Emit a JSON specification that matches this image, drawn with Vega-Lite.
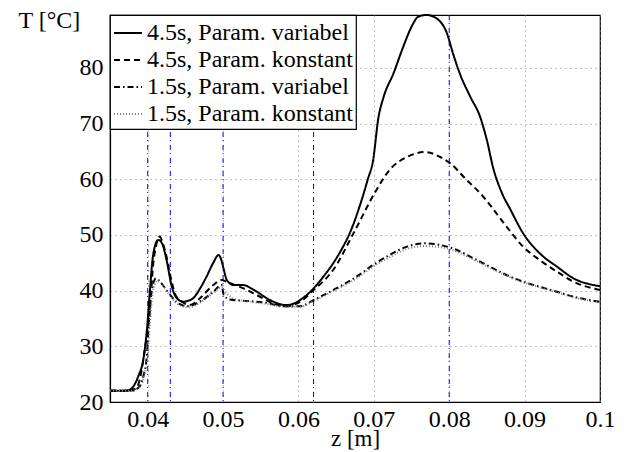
{
  "$schema": "https://vega.github.io/schema/vega-lite/v6.json",
  "width": 490,
  "height": 387,
  "autosize": {"type": "none"},
  "padding": {"left": 110, "top": 15, "right": 24, "bottom": 50},
  "background": "white",
  "config": {
    "font": "Liberation Serif",
    "view": {"stroke": "black", "strokeWidth": 1.2},
    "axis": {
      "labelFont": "Liberation Serif", "labelFontSize": 24, "labelColor": "black",
      "titleFont": "Liberation Serif", "titleFontSize": 24, "titleColor": "black", "titleFontWeight": "normal",
      "domainColor": "black", "domainWidth": 1.2,
      "ticks": false,
      "gridColor": "#888888", "gridDash": [1, 4], "gridWidth": 1, "gridOpacity": 1
    },
    "legend": {
      "labelFont": "Liberation Serif", "labelFontSize": 24, "labelColor": "black", "labelLimit": 400,
      "fillColor": "white", "strokeColor": "black", "strokeWidth": 1.2
    }
  },
  "datasets": {
    "vlines": [{"z": 0.040}, {"z": 0.043}, {"z": 0.050}, {"z": 0.062}, {"z": 0.080}],
    "curves": [
      {"s": "4.5s, Param. variabel", "z": 0.035, "T": 22.0},
      {"s": "4.5s, Param. variabel", "z": 0.0365, "T": 22.0},
      {"s": "4.5s, Param. variabel", "z": 0.0374, "T": 22.1},
      {"s": "4.5s, Param. variabel", "z": 0.0382, "T": 23.0},
      {"s": "4.5s, Param. variabel", "z": 0.0388, "T": 24.8},
      {"s": "4.5s, Param. variabel", "z": 0.0394, "T": 27.5},
      {"s": "4.5s, Param. variabel", "z": 0.0399, "T": 33.0},
      {"s": "4.5s, Param. variabel", "z": 0.0403, "T": 40.1},
      {"s": "4.5s, Param. variabel", "z": 0.04075, "T": 46.7},
      {"s": "4.5s, Param. variabel", "z": 0.0414, "T": 49.1},
      {"s": "4.5s, Param. variabel", "z": 0.0419, "T": 48.5},
      {"s": "4.5s, Param. variabel", "z": 0.0425, "T": 45.5},
      {"s": "4.5s, Param. variabel", "z": 0.0432, "T": 40.7},
      {"s": "4.5s, Param. variabel", "z": 0.0439, "T": 38.6},
      {"s": "4.5s, Param. variabel", "z": 0.0447, "T": 38.0},
      {"s": "4.5s, Param. variabel", "z": 0.0454, "T": 38.2},
      {"s": "4.5s, Param. variabel", "z": 0.0460, "T": 38.6},
      {"s": "4.5s, Param. variabel", "z": 0.0470, "T": 40.5},
      {"s": "4.5s, Param. variabel", "z": 0.0478, "T": 42.5},
      {"s": "4.5s, Param. variabel", "z": 0.0487, "T": 45.0},
      {"s": "4.5s, Param. variabel", "z": 0.0494, "T": 46.4},
      {"s": "4.5s, Param. variabel", "z": 0.0497, "T": 45.8},
      {"s": "4.5s, Param. variabel", "z": 0.0500, "T": 44.3},
      {"s": "4.5s, Param. variabel", "z": 0.0505, "T": 41.9},
      {"s": "4.5s, Param. variabel", "z": 0.0514, "T": 41.0},
      {"s": "4.5s, Param. variabel", "z": 0.0527, "T": 41.0},
      {"s": "4.5s, Param. variabel", "z": 0.0536, "T": 40.5},
      {"s": "4.5s, Param. variabel", "z": 0.0545, "T": 39.8},
      {"s": "4.5s, Param. variabel", "z": 0.0556, "T": 38.8},
      {"s": "4.5s, Param. variabel", "z": 0.0567, "T": 38.0},
      {"s": "4.5s, Param. variabel", "z": 0.0584, "T": 37.4},
      {"s": "4.5s, Param. variabel", "z": 0.0594, "T": 37.7},
      {"s": "4.5s, Param. variabel", "z": 0.0602, "T": 38.3},
      {"s": "4.5s, Param. variabel", "z": 0.0620, "T": 40.4},
      {"s": "4.5s, Param. variabel", "z": 0.0633, "T": 42.5},
      {"s": "4.5s, Param. variabel", "z": 0.0646, "T": 44.9},
      {"s": "4.5s, Param. variabel", "z": 0.0658, "T": 47.6},
      {"s": "4.5s, Param. variabel", "z": 0.0668, "T": 50.3},
      {"s": "4.5s, Param. variabel", "z": 0.0682, "T": 55.5},
      {"s": "4.5s, Param. variabel", "z": 0.0692, "T": 60.0},
      {"s": "4.5s, Param. variabel", "z": 0.0699, "T": 63.4},
      {"s": "4.5s, Param. variabel", "z": 0.0706, "T": 71.0},
      {"s": "4.5s, Param. variabel", "z": 0.0713, "T": 74.8},
      {"s": "4.5s, Param. variabel", "z": 0.0726, "T": 79.0},
      {"s": "4.5s, Param. variabel", "z": 0.0739, "T": 83.8},
      {"s": "4.5s, Param. variabel", "z": 0.0750, "T": 87.4},
      {"s": "4.5s, Param. variabel", "z": 0.0759, "T": 89.2},
      {"s": "4.5s, Param. variabel", "z": 0.0770, "T": 89.5},
      {"s": "4.5s, Param. variabel", "z": 0.0783, "T": 88.9},
      {"s": "4.5s, Param. variabel", "z": 0.0797, "T": 86.2},
      {"s": "4.5s, Param. variabel", "z": 0.0805, "T": 82.6},
      {"s": "4.5s, Param. variabel", "z": 0.0814, "T": 79.0},
      {"s": "4.5s, Param. variabel", "z": 0.0828, "T": 74.8},
      {"s": "4.5s, Param. variabel", "z": 0.0841, "T": 71.2},
      {"s": "4.5s, Param. variabel", "z": 0.0850, "T": 67.0},
      {"s": "4.5s, Param. variabel", "z": 0.0858, "T": 62.2},
      {"s": "4.5s, Param. variabel", "z": 0.0870, "T": 57.5},
      {"s": "4.5s, Param. variabel", "z": 0.0881, "T": 54.6},
      {"s": "4.5s, Param. variabel", "z": 0.0898, "T": 50.3},
      {"s": "4.5s, Param. variabel", "z": 0.0920, "T": 46.7},
      {"s": "4.5s, Param. variabel", "z": 0.0943, "T": 44.3},
      {"s": "4.5s, Param. variabel", "z": 0.0965, "T": 42.2},
      {"s": "4.5s, Param. variabel", "z": 0.1000, "T": 40.8},

      {"s": "4.5s, Param. konstant", "z": 0.035, "T": 22.0},
      {"s": "4.5s, Param. konstant", "z": 0.0375, "T": 22.0},
      {"s": "4.5s, Param. konstant", "z": 0.0385, "T": 22.5},
      {"s": "4.5s, Param. konstant", "z": 0.0391, "T": 25.0},
      {"s": "4.5s, Param. konstant", "z": 0.0396, "T": 29.3},
      {"s": "4.5s, Param. konstant", "z": 0.0403, "T": 36.5},
      {"s": "4.5s, Param. konstant", "z": 0.0407, "T": 44.3},
      {"s": "4.5s, Param. konstant", "z": 0.0411, "T": 48.0},
      {"s": "4.5s, Param. konstant", "z": 0.0416, "T": 49.7},
      {"s": "4.5s, Param. konstant", "z": 0.0420, "T": 48.5},
      {"s": "4.5s, Param. konstant", "z": 0.0425, "T": 46.1},
      {"s": "4.5s, Param. konstant", "z": 0.0432, "T": 41.5},
      {"s": "4.5s, Param. konstant", "z": 0.0437, "T": 39.2},
      {"s": "4.5s, Param. konstant", "z": 0.0443, "T": 38.3},
      {"s": "4.5s, Param. konstant", "z": 0.0456, "T": 37.4},
      {"s": "4.5s, Param. konstant", "z": 0.0469, "T": 38.6},
      {"s": "4.5s, Param. konstant", "z": 0.0487, "T": 41.0},
      {"s": "4.5s, Param. konstant", "z": 0.0498, "T": 41.9},
      {"s": "4.5s, Param. konstant", "z": 0.0505, "T": 41.6},
      {"s": "4.5s, Param. konstant", "z": 0.0516, "T": 41.0},
      {"s": "4.5s, Param. konstant", "z": 0.0527, "T": 40.4},
      {"s": "4.5s, Param. konstant", "z": 0.0545, "T": 39.2},
      {"s": "4.5s, Param. konstant", "z": 0.0567, "T": 37.7},
      {"s": "4.5s, Param. konstant", "z": 0.0584, "T": 37.2},
      {"s": "4.5s, Param. konstant", "z": 0.0602, "T": 38.0},
      {"s": "4.5s, Param. konstant", "z": 0.0620, "T": 40.1},
      {"s": "4.5s, Param. konstant", "z": 0.0646, "T": 43.7},
      {"s": "4.5s, Param. konstant", "z": 0.0673, "T": 50.3},
      {"s": "4.5s, Param. konstant", "z": 0.0701, "T": 57.5},
      {"s": "4.5s, Param. konstant", "z": 0.0721, "T": 61.7},
      {"s": "4.5s, Param. konstant", "z": 0.0744, "T": 64.0},
      {"s": "4.5s, Param. konstant", "z": 0.0768, "T": 64.9},
      {"s": "4.5s, Param. konstant", "z": 0.0788, "T": 64.0},
      {"s": "4.5s, Param. konstant", "z": 0.0801, "T": 62.9},
      {"s": "4.5s, Param. konstant", "z": 0.0823, "T": 59.9},
      {"s": "4.5s, Param. konstant", "z": 0.0845, "T": 56.9},
      {"s": "4.5s, Param. konstant", "z": 0.0854, "T": 55.4},
      {"s": "4.5s, Param. konstant", "z": 0.0876, "T": 51.5},
      {"s": "4.5s, Param. konstant", "z": 0.0898, "T": 47.9},
      {"s": "4.5s, Param. konstant", "z": 0.0920, "T": 45.5},
      {"s": "4.5s, Param. konstant", "z": 0.0943, "T": 43.4},
      {"s": "4.5s, Param. konstant", "z": 0.0965, "T": 41.6},
      {"s": "4.5s, Param. konstant", "z": 0.1000, "T": 40.1},

      {"s": "1.5s, Param. variabel", "z": 0.035, "T": 22.0},
      {"s": "1.5s, Param. variabel", "z": 0.0378, "T": 22.0},
      {"s": "1.5s, Param. variabel", "z": 0.0388, "T": 22.6},
      {"s": "1.5s, Param. variabel", "z": 0.0394, "T": 24.5},
      {"s": "1.5s, Param. variabel", "z": 0.0399, "T": 28.5},
      {"s": "1.5s, Param. variabel", "z": 0.0402, "T": 35.5},
      {"s": "1.5s, Param. variabel", "z": 0.0406, "T": 40.5},
      {"s": "1.5s, Param. variabel", "z": 0.0411, "T": 42.2},
      {"s": "1.5s, Param. variabel", "z": 0.0417, "T": 41.5},
      {"s": "1.5s, Param. variabel", "z": 0.0425, "T": 40.1},
      {"s": "1.5s, Param. variabel", "z": 0.0438, "T": 38.0},
      {"s": "1.5s, Param. variabel", "z": 0.0452, "T": 37.2},
      {"s": "1.5s, Param. variabel", "z": 0.0469, "T": 38.0},
      {"s": "1.5s, Param. variabel", "z": 0.0487, "T": 39.8},
      {"s": "1.5s, Param. variabel", "z": 0.0498, "T": 41.0},
      {"s": "1.5s, Param. variabel", "z": 0.0501, "T": 39.2},
      {"s": "1.5s, Param. variabel", "z": 0.0509, "T": 38.4},
      {"s": "1.5s, Param. variabel", "z": 0.0536, "T": 38.1},
      {"s": "1.5s, Param. variabel", "z": 0.0558, "T": 37.8},
      {"s": "1.5s, Param. variabel", "z": 0.0580, "T": 37.2},
      {"s": "1.5s, Param. variabel", "z": 0.0602, "T": 37.2},
      {"s": "1.5s, Param. variabel", "z": 0.0620, "T": 38.3},
      {"s": "1.5s, Param. variabel", "z": 0.0646, "T": 40.1},
      {"s": "1.5s, Param. variabel", "z": 0.0677, "T": 42.5},
      {"s": "1.5s, Param. variabel", "z": 0.0699, "T": 44.6},
      {"s": "1.5s, Param. variabel", "z": 0.0721, "T": 46.4},
      {"s": "1.5s, Param. variabel", "z": 0.0744, "T": 47.9},
      {"s": "1.5s, Param. variabel", "z": 0.0768, "T": 48.5},
      {"s": "1.5s, Param. variabel", "z": 0.0788, "T": 48.2},
      {"s": "1.5s, Param. variabel", "z": 0.0810, "T": 47.3},
      {"s": "1.5s, Param. variabel", "z": 0.0832, "T": 45.8},
      {"s": "1.5s, Param. variabel", "z": 0.0854, "T": 44.3},
      {"s": "1.5s, Param. variabel", "z": 0.0876, "T": 42.8},
      {"s": "1.5s, Param. variabel", "z": 0.0898, "T": 41.6},
      {"s": "1.5s, Param. variabel", "z": 0.0920, "T": 40.7},
      {"s": "1.5s, Param. variabel", "z": 0.0943, "T": 39.8},
      {"s": "1.5s, Param. variabel", "z": 0.0965, "T": 38.9},
      {"s": "1.5s, Param. variabel", "z": 0.1000, "T": 38.0},

      {"s": "1.5s, Param. konstant", "z": 0.035, "T": 22.0},
      {"s": "1.5s, Param. konstant", "z": 0.0380, "T": 22.0},
      {"s": "1.5s, Param. konstant", "z": 0.0390, "T": 22.8},
      {"s": "1.5s, Param. konstant", "z": 0.0396, "T": 25.0},
      {"s": "1.5s, Param. konstant", "z": 0.0400, "T": 28.5},
      {"s": "1.5s, Param. konstant", "z": 0.0404, "T": 36.0},
      {"s": "1.5s, Param. konstant", "z": 0.0408, "T": 40.5},
      {"s": "1.5s, Param. konstant", "z": 0.0413, "T": 41.8},
      {"s": "1.5s, Param. konstant", "z": 0.0419, "T": 41.2},
      {"s": "1.5s, Param. konstant", "z": 0.0427, "T": 39.6},
      {"s": "1.5s, Param. konstant", "z": 0.0440, "T": 37.6},
      {"s": "1.5s, Param. konstant", "z": 0.0454, "T": 37.0},
      {"s": "1.5s, Param. konstant", "z": 0.0470, "T": 37.9},
      {"s": "1.5s, Param. konstant", "z": 0.0487, "T": 39.6},
      {"s": "1.5s, Param. konstant", "z": 0.0498, "T": 40.6},
      {"s": "1.5s, Param. konstant", "z": 0.0504, "T": 39.6},
      {"s": "1.5s, Param. konstant", "z": 0.0514, "T": 38.6},
      {"s": "1.5s, Param. konstant", "z": 0.0536, "T": 38.0},
      {"s": "1.5s, Param. konstant", "z": 0.0558, "T": 37.6},
      {"s": "1.5s, Param. konstant", "z": 0.0580, "T": 37.1},
      {"s": "1.5s, Param. konstant", "z": 0.0602, "T": 37.1},
      {"s": "1.5s, Param. konstant", "z": 0.0620, "T": 38.1},
      {"s": "1.5s, Param. konstant", "z": 0.0646, "T": 39.9},
      {"s": "1.5s, Param. konstant", "z": 0.0677, "T": 42.2},
      {"s": "1.5s, Param. konstant", "z": 0.0699, "T": 44.3},
      {"s": "1.5s, Param. konstant", "z": 0.0721, "T": 46.0},
      {"s": "1.5s, Param. konstant", "z": 0.0744, "T": 47.5},
      {"s": "1.5s, Param. konstant", "z": 0.0768, "T": 48.0},
      {"s": "1.5s, Param. konstant", "z": 0.0788, "T": 47.8},
      {"s": "1.5s, Param. konstant", "z": 0.0810, "T": 47.0},
      {"s": "1.5s, Param. konstant", "z": 0.0832, "T": 45.6},
      {"s": "1.5s, Param. konstant", "z": 0.0854, "T": 44.1},
      {"s": "1.5s, Param. konstant", "z": 0.0876, "T": 42.7},
      {"s": "1.5s, Param. konstant", "z": 0.0898, "T": 41.5},
      {"s": "1.5s, Param. konstant", "z": 0.0920, "T": 40.6},
      {"s": "1.5s, Param. konstant", "z": 0.0943, "T": 39.7},
      {"s": "1.5s, Param. konstant", "z": 0.0965, "T": 38.8},
      {"s": "1.5s, Param. konstant", "z": 0.1000, "T": 37.9}
    ]
  },
  "encoding": {
    "x": {
      "field": "z", "type": "quantitative",
      "scale": {"domain": [0.035, 0.1], "nice": false, "zero": false},
      "axis": {
        "title": "z [m]", "values": [0.04, 0.05, 0.06, 0.07, 0.08, 0.09, 0.1], "format": "~g", "labelFlush": false,
        "labelFont": "Liberation Serif", "labelFontSize": 24, "labelPadding": 5,
        "titleFont": "Liberation Serif", "titleFontSize": 23, "titleBaseline": "alphabetic", "titleY": 43,
        "ticks": false, "grid": true
      }
    }
  },
  "layer": [
    {
      "data": {"name": "vlines"},
      "mark": {"type": "rule", "color": "#0000ff", "strokeWidth": 1, "strokeDash": [5, 3, 1, 4]}
    },
    {
      "data": {"name": "curves"},
      "mark": {"type": "line", "interpolate": "monotone"},
      "encoding": {
        "y": {
          "field": "T", "type": "quantitative",
          "scale": {"domain": [20, 89.5], "nice": false, "zero": false},
          "axis": {
            "title": "T [°C]", "values": [20, 30, 40, 50, 60, 70, 80],
            "labelFont": "Liberation Serif", "labelFontSize": 24, "labelPadding": 7,
            "titleFont": "Liberation Serif", "titleFontSize": 24,
            "titleAngle": 0, "titleAlign": "left", "titleBaseline": "top", "titleX": -92, "titleY": -7,
            "ticks": false, "grid": true
          }
        },
        "order": {"field": "z", "type": "quantitative"},
        "color": {
          "field": "s", "type": "nominal", "title": null,
          "scale": {"domain": ["4.5s, Param. variabel", "4.5s, Param. konstant", "1.5s, Param. variabel", "1.5s, Param. konstant"], "range": ["black", "black", "black", "#808080"]}
        },
        "strokeDash": {
          "field": "s", "type": "nominal", "title": null,
          "scale": {"domain": ["4.5s, Param. variabel", "4.5s, Param. konstant", "1.5s, Param. variabel", "1.5s, Param. konstant"], "range": [[1, 0], [6, 4], [6, 3, 1.5, 3], [1, 2]]}
        },
        "strokeWidth": {
          "field": "s", "type": "nominal", "title": null,
          "scale": {"domain": ["4.5s, Param. variabel", "4.5s, Param. konstant", "1.5s, Param. variabel", "1.5s, Param. konstant"], "range": [2, 2, 1.8, 1.2]},
          "legend": {"orient": "top-left", "offset": 0, "padding": 3, "symbolType": "stroke", "symbolSize": 784, "labelOffset": 4, "rowPadding": 0, "title": null}
        }
      }
    }
  ]
}
